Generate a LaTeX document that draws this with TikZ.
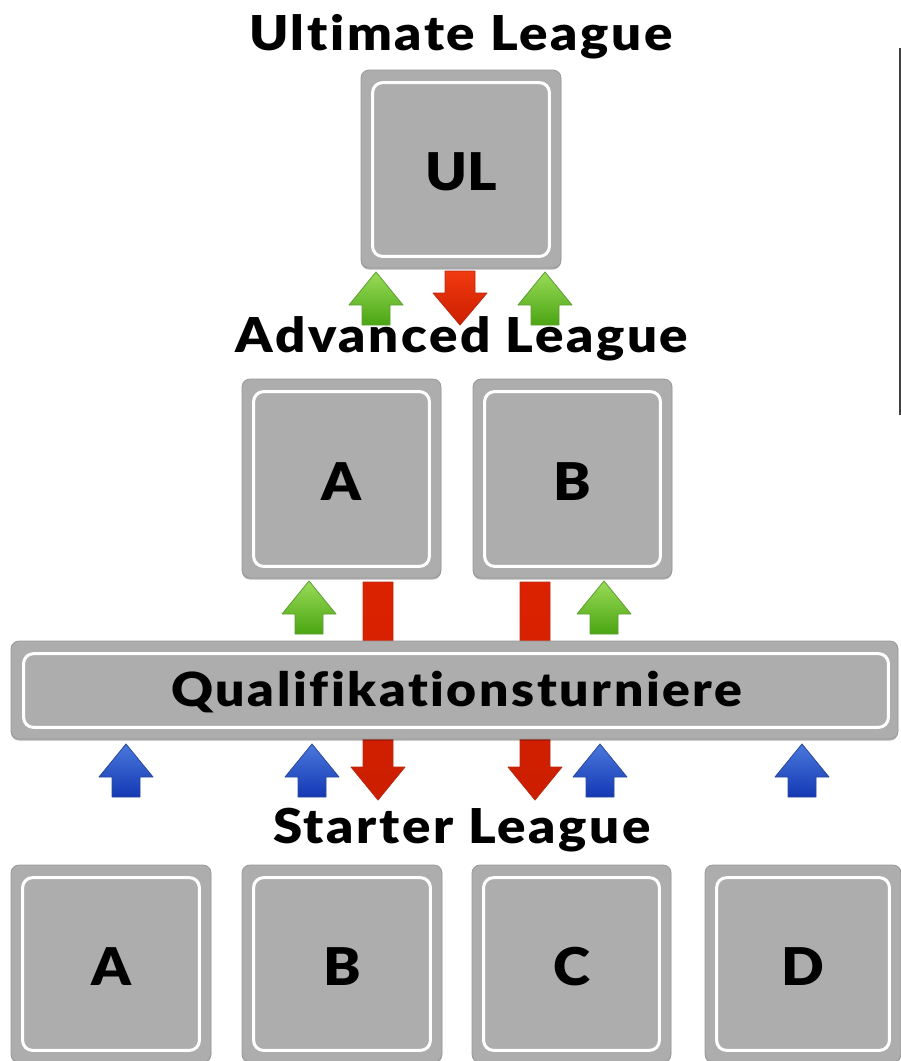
\documentclass[tikz,border=0pt]{standalone}
\usepackage{graphicx}
\usepackage{fontspec}
\setmainfont{Lato}[Ligatures=NoCommon]
\newfontfamily\blk{Lato Black}[Ligatures=NoCommon]
\newfontfamily\blksp{Lato Black}[Ligatures=NoCommon, LetterSpace=5]
\usetikzlibrary{shadows}
\definecolor{boxfill}{HTML}{ADADAD}
\definecolor{boxedge}{HTML}{999999}
\definecolor{greentop}{HTML}{9ADB58}
\definecolor{greenbot}{HTML}{4AA512}
\definecolor{greenedge}{HTML}{5E9E33}
\definecolor{redtop}{HTML}{F03A10}
\definecolor{redbot}{HTML}{CC1E00}
\definecolor{redmid}{HTML}{DC2200}
\definecolor{rededge}{HTML}{B82A10}
\definecolor{bluetop}{HTML}{4A78DC}
\definecolor{bluebot}{HTML}{1438B4}
\definecolor{blueedge}{HTML}{2A4A9A}
\tikzset{
  outerbox/.style={rectangle, rounded corners=8pt, fill=boxfill, draw=boxedge, line width=0.8pt, inner sep=0pt,
    drop shadow={shadow xshift=0pt, shadow yshift=-1.5pt, opacity=0.3, fill=black}},
  innerline/.style={draw=white, line width=3pt, rounded corners=10pt},
  boxlabel/.style={font=\blk\fontsize{52}{60}\selectfont, inner sep=0pt, text=black},
  titletext/.style={font=\blksp\fontsize{48}{56}\selectfont, inner sep=0pt, anchor=base, text=black},
  greenarr/.style={draw=greenedge, line width=0.8pt, top color=greentop, bottom color=greenbot, line join=round},
  redarr/.style={draw=rededge, line width=0.8pt, top color=redtop, bottom color=redbot, line join=round},
  redlong/.style={draw=rededge, line width=0.8pt, top color=redmid, bottom color=redbot, line join=round},
  bluearr/.style={draw=blueedge, line width=0.8pt, top color=bluetop, bottom color=bluebot, line join=round},
}
\newcommand\lgbox[6]{%
  \node[outerbox, minimum width=#4pt, minimum height=#5pt] (#1) at (#2,#3) {};
  \draw[innerline] ([shift={(12pt,-13pt)}]#1.north west) rectangle ([shift={(-12pt,12pt)}]#1.south east);
  \node[boxlabel] (#1-t) at ([yshift=-3pt]#1.center) {\scalebox{1.08}[1]{#6}};}
\newcommand\uparr[3]{%
  \draw[#1] (#2,#3) -- ({#2+27},{#3+33}) -- ({#2+14},{#3+33}) -- ({#2+14},{#3+53}) -- ({#2-14},{#3+53}) -- ({#2-14},{#3+33}) -- ({#2-27},{#3+33}) -- cycle;}
\newcommand\downarr[5]{%
  \draw[#1] ({#2-15},#3) -- ({#2+15},#3) -- ({#2+15},#4) -- ({#2+27},#4) -- (#2,#5) -- ({#2-27},#4) -- ({#2-15},#4) -- cycle;}
\begin{document}
\begin{tikzpicture}[x=1pt,y=-1pt]
\useasboundingbox (0,0) rectangle (901,1061);
\clip (0,0) rectangle (901,1061);
\fill[white] (0,0) rectangle (901,1061);

% titles
\node[titletext] (tUL) at (461,50) {\scalebox{1.1}[1]{Ultimate League}};
\node[titletext] (tAL) at (462,352) {\scalebox{1.1}[1]{Advanced League}};
\node[titletext] (tSL) at (462,843) {\scalebox{1.1}[1]{Starter League}};

% Ultimate League
\lgbox{UL}{461}{169}{200}{198}{UL}
\uparr{greenarr}{376}{272}
\uparr{greenarr}{545}{272}
\downarr{redarr}{460}{271}{293}{325}

% Advanced League
\lgbox{AA}{341.5}{478.5}{199}{199}{A}
\lgbox{AB}{572.5}{478.5}{199}{199}{B}
\uparr{greenarr}{309}{581}
\uparr{greenarr}{604}{581}
\downarr{redlong}{378}{582}{767}{800}
\downarr{redlong}{535}{582}{767}{800}

% Qualifikation
\node[outerbox, minimum width=887pt, minimum height=98pt] (Q) at (454.5,690) {};
\draw[innerline] ([shift={(13pt,-13pt)}]Q.north west) rectangle ([shift={(-10pt,12pt)}]Q.south east);
\node[font=\blksp\fontsize{47}{56}\selectfont, inner sep=0pt, anchor=base] (Qt) at (457,706) {\scalebox{1.1}[1]{Qualifikationsturniere}};

\uparr{bluearr}{126}{744}
\uparr{bluearr}{312}{744}
\uparr{bluearr}{600}{744}
\uparr{bluearr}{802}{744}

% Starter League
\lgbox{SA}{111}{963.5}{200}{197}{A}
\lgbox{SB}{342}{963.5}{200}{197}{B}
\lgbox{SC}{571.5}{963.5}{199}{197}{C}
\lgbox{SD}{803}{963.5}{196}{197}{D}

% right edge line
\fill[black!75] (898.5,48) rectangle (901,415);
\end{tikzpicture}
\end{document}
